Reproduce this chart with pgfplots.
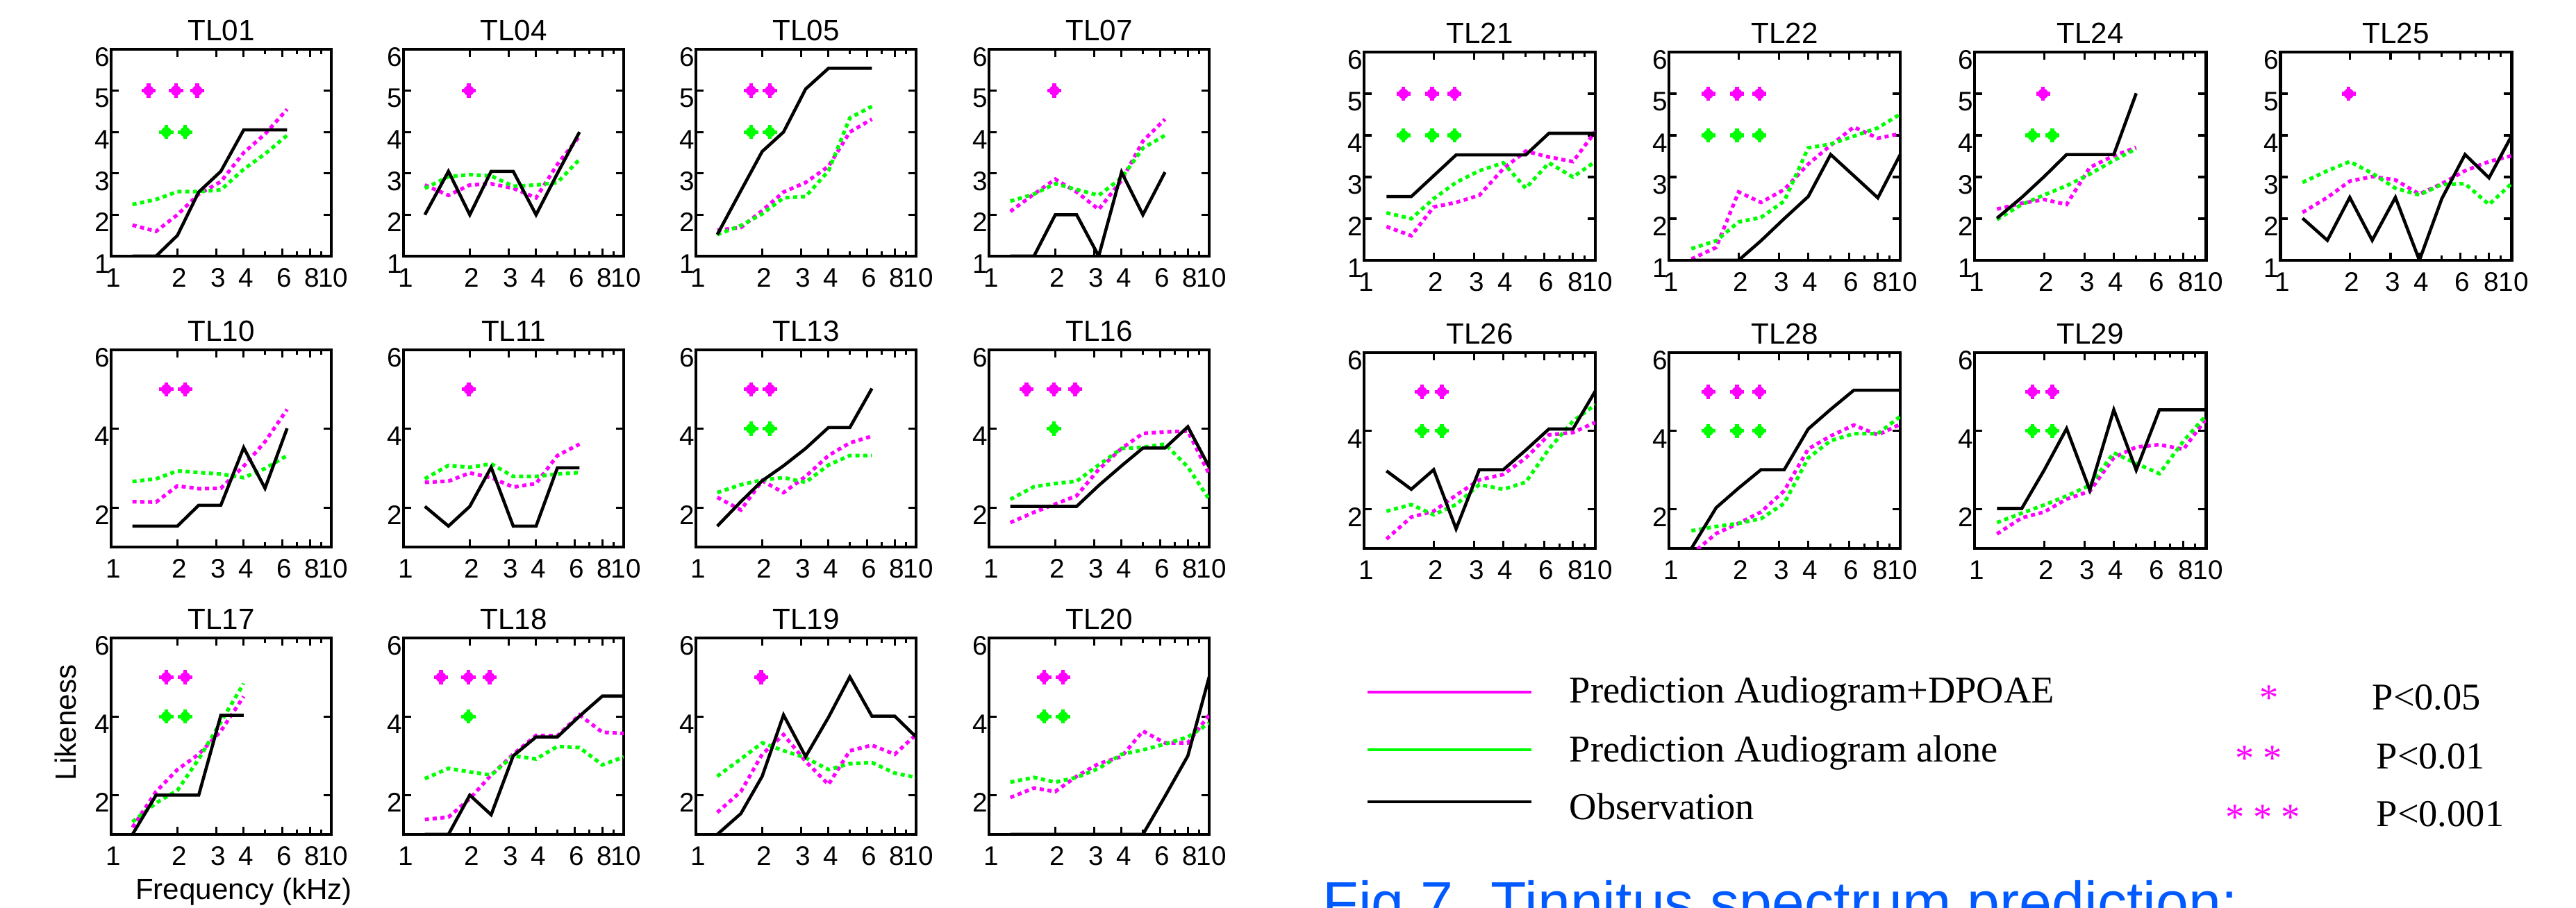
\documentclass[border=0pt]{standalone}
\usepackage{pgfplots}
\usepackage{pgfplotstable}
\pgfplotsset{compat=1.18}
\usepackage{fontspec}
\setmainfont{Liberation Sans}
\newfontfamily\timesfont{Liberation Serif}
\definecolor{mag}{RGB}{255,0,255}
\definecolor{grn}{RGB}{0,255,0}
\definecolor{figblue}{RGB}{0,90,255}

\pgfplotsset{
  scale only axis,
  xmin=1, xmax=10, ymin=1, ymax=6,
  xtick={1,2,3,4,6,8,10}, xticklabels={1,2,3,4,6,8,10},
  minor xtick={5,7,9},
  axis line style={line width=1.4pt},
  tick style={black, line width=0.9pt},
  major tick length=1.1mm, minor tick length=0.7mm,
  tick align=inside,
  ticklabel style={font=\fontsize{11}{12}\selectfont},
  xticklabel style={yshift=-0.5mm, xshift=0.3mm},
  yticklabel style={xshift=1.0mm, yshift=-1.1mm, /pgf/number format/assume math mode=true},
  every axis title/.style={at={(0.5,1)}, anchor=south, font=\fontsize{12}{14}\selectfont},
}

\newcommand\drawseries[1]{%
  \addplot[mag, line width=1.5pt, dash pattern=on 1.7pt off 1.5pt] table[x=f,y=m]{#1};
  \addplot[grn, line width=1.5pt, dash pattern=on 1.7pt off 1.5pt] table[x=f,y=g]{#1};
  \addplot[black, line width=1.3pt] table[x=f,y=o]{#1};}
\newcommand\starplot[2]{% colour, coordinates
  \addplot[only marks, mark=*, #1, mark size=1.9pt] coordinates {#2};
  \addplot[only marks, mark=+, #1, mark size=2.9pt, mark options={line width=1.5pt}] coordinates {#2};}
\newcommand\mthree{\starplot{mag}{(1.48,5)(1.97,5)(2.46,5)}}
\newcommand\mtwo{\starplot{mag}{(1.78,5)(2.17,5)}}
\newcommand\mone{\starplot{mag}{(1.98,5)}}
\newcommand\gthree{\starplot{grn}{(1.48,4)(1.97,4)(2.46,4)}}
\newcommand\gtwo{\starplot{grn}{(1.78,4)(2.17,4)}}
\newcommand\gone{\starplot{grn}{(1.97,4)}}

% f = frequency (kHz), o = observation, m = prediction audiogram+DPOAE, g = prediction audiogram alone
\pgfplotstableread{
f o m g
1.25 1 1.75 2.25
1.6 1 1.6 2.37
2 1.5 2.0 2.56
2.5 2.55 2.5 2.56
3.15 3.05 2.8 2.6
4 4.05 3.5 3.1
5 4.05 3.95 3.47
6.3 4.05 4.55 3.92
}\tabA
\pgfplotstableread{
f o m g
1.25 2 2.72 2.64
1.6 3.05 2.47 2.92
2 2 2.72 2.97
2.5 3.05 2.75 2.94
3.15 3.05 2.64 2.69
4 2 2.41 2.72
5 3 3.22 2.78
6.3 4 3.9 3.34
}\tabB
\pgfplotstableread{
f o m g
1.25 1.52 1.63 1.52
1.6 2.58 1.69 1.74
2 3.53 2.1 2.02
2.5 4.0 2.55 2.41
3.15 5.04 2.78 2.44
4 5.54 3.17 3.06
5 5.54 4.0 4.34
6.3 5.54 4.31 4.62
}\tabC
\pgfplotstableread{
f o m g
1.25 1 2.08 2.33
1.6 1 2.5 2.5
2 2 2.86 2.75
2.5 2 2.55 2.61
3.15 1 2.13 2.47
4 3.03 2.83 2.89
5 2 3.78 3.61
6.3 3.03 4.31 3.92
}\tabD
\pgfplotstableread{
f o m g
1.25 1.53 2.15 2.66
1.6 1.53 2.14 2.73
2 1.53 2.55 2.93
2.5 2.06 2.48 2.89
3.15 2.06 2.49 2.85
4 3.52 3.05 2.76
5 2.49 3.67 2.99
6.3 4.01 4.49 3.32
}\tabE
\pgfplotstableread{
f o m g
1.25 2.03 2.64 2.73
1.6 1.53 2.67 3.07
2 2.03 2.88 3.02
2.5 3.02 2.76 3.11
3.15 1.53 2.52 2.79
4 1.53 2.61 2.79
5 3.01 3.32 2.85
6.3 3.01 3.61 2.89
}\tabF
\pgfplotstableread{
f o m g
1.25 1.53 2.26 2.38
1.6 2.15 1.94 2.58
2 2.68 2.68 2.7
2.5 3.06 2.38 2.76
3.15 3.5 2.79 2.64
4 4.03 3.32 3.08
5 4.03 3.64 3.32
6.3 5.02 3.81 3.32
}\tabG
\pgfplotstableread{
f o m g
1.25 2.03 1.62 2.21
1.6 2.03 1.88 2.53
2 2.03 2.09 2.61
2.5 2.03 2.3 2.67
3.15 2.56 2.97 3.08
4 3.06 3.5 3.5
5 3.51 3.88 3.53
6.3 3.51 3.92 3.61
8 4.05 3.94 3.03
10 3.03 2.85 2.21
}\tabH
\pgfplotstableread{
f o m g
1.25 1 1.18 1.32
1.6 2 2.09 1.8
2 2 2.65 2.12
2.5 2 3.04 2.92
3.15 4.03 3.63 3.86
4 4.03 4.51 4.84
}\tabI
\pgfplotstableread{
f o m g
1.25 1 1.38 2.42
1.6 1 1.44 2.68
2 2 1.91 2.59
2.5 1.5 2.51 2.51
3.15 3 3.04 3.0
4 3.48 3.52 2.92
5 3.48 3.51 3.24
6.3 4.01 4.04 3.21
8 4.52 3.6 2.77
10 4.52 3.57 2.97
}\tabJ
\pgfplotstableread{
f o m g
1.25 1 1.56 2.48
1.6 1.53 2.09 2.92
2 2.48 3.04 3.33
2.5 4.04 3.54 3.13
3.15 2.98 2.86 2.95
4 3.98 2.27 2.65
5 5.01 3.13 2.8
6.3 4.01 3.27 2.83
8 4.01 3.04 2.56
10 3.48 3.54 2.45
}\tabK
\pgfplotstableread{
f o m g
1.25 1 1.94 2.33
1.6 1 2.18 2.45
2 1 2.09 2.33
2.5 1 2.48 2.45
3.15 1 2.8 2.68
4 1 2.98 3.04
5 1 3.63 3.15
6.3 1.97 3.33 3.3
8 3.0 3.33 3.48
10 5.01 4.04 3.83
}\tabL
\pgfplotstableread{
f o m g
1.25 2.53 1.81 2.14
1.6 2.53 1.59 2.0
2 3.03 2.28 2.48
2.5 3.53 2.39 2.87
3.15 3.53 2.56 3.15
4 3.53 3.2 3.34
5 3.53 3.62 2.73
6.3 4.05 3.48 3.34
8 4.05 3.37 3.0
10 4.05 4.09 3.37
}\tabM
\pgfplotstableread{
f o m g
1.25 1 1.03 1.28
1.6 1 1.31 1.47
2 1 2.64 1.92
2.5 1.47 2.39 2.03
3.15 2.0 2.7 2.42
4 2.53 3.31 3.7
5 3.54 3.76 3.79
6.3 3.03 4.2 3.98
8 2.5 3.93 4.18
10 3.54 4.04 4.51
}\tabN
\pgfplotstableread{
f o m g
1.25 2.01 2.23 1.98
1.6 2.51 2.37 2.34
2 3.01 2.46 2.57
2.5 3.54 2.34 2.79
3.15 3.54 3.23 3.07
4 3.54 3.51 3.4
5 5.01 3.71 3.68
}\tabO
\pgfplotstableread{
f o m g
1.25 2.01 2.15 2.87
1.6 1.48 2.51 3.15
2 2.51 2.9 3.37
2.5 1.48 3.01 3.09
3.15 2.51 2.93 2.73
4 1.0 2.59 2.57
5 2.48 2.84 2.82
6.3 3.54 3.15 2.84
8 2.98 3.37 2.34
10 3.98 3.51 2.84
}\tabP
\pgfplotstableread{
f o m g
1.25 2.98 1.24 1.95
1.6 2.51 1.8 2.12
2 3.01 1.95 1.86
2.5 1.5 2.36 2.12
3.15 3.01 2.75 2.63
4 3.01 2.89 2.51
5 3.51 3.31 2.69
6.3 4.05 3.9 3.54
8 4.05 3.96 4.25
10 5.02 4.22 4.67
}\tabQ
\pgfplotstableread{
f o m g
1.25 1.0 0.85 1.45
1.6 2.04 1.38 1.56
2 2.54 1.64 1.64
2.5 3.01 1.93 1.76
3.15 3.01 2.47 2.15
4 4.05 3.54 3.31
5 4.55 3.87 3.75
6.3 5.04 4.15 3.93
8 5.04 3.9 3.93
10 5.04 4.17 4.37
}\tabR
\pgfplotstableread{
f o m g
1.25 2.02 1.37 1.66
1.6 2.02 1.78 1.9
2 3.0 1.93 2.11
2.5 4.06 2.26 2.34
3.15 2.49 2.46 2.61
4 4.54 3.32 3.44
5 3.0 3.59 3.17
6.3 4.54 3.65 2.91
8 4.54 3.53 3.74
10 4.54 4.3 4.39
}\tabS

\begin{document}
\begin{tikzpicture}
\path[use as bounding box] (0,0) rectangle (370.9mm,130.7mm);
\clip (0,0) rectangle (370.9mm,130.7mm);

% ---- row 1, left group
\begin{semilogxaxis}[anchor=north west, width=31.7mm, height=29.8mm, ytick={1,2,3,4,5,6}, at={(16.0mm,123.6mm)}, title={TL01}]
\drawseries{\tabA}\mthree\gtwo
\end{semilogxaxis}
\begin{semilogxaxis}[anchor=north west, width=31.7mm, height=29.8mm, ytick={1,2,3,4,5,6}, at={(58.1mm,123.6mm)}, title={TL04}]
\drawseries{\tabB}\mone
\end{semilogxaxis}
\begin{semilogxaxis}[anchor=north west, width=31.7mm, height=29.8mm, ytick={1,2,3,4,5,6}, at={(100.2mm,123.6mm)}, title={TL05}]
\drawseries{\tabC}\mtwo\gtwo
\end{semilogxaxis}
\begin{semilogxaxis}[anchor=north west, width=31.7mm, height=29.8mm, ytick={1,2,3,4,5,6}, at={(142.4mm,123.6mm)}, title={TL07}]
\drawseries{\tabD}\mone
\end{semilogxaxis}
% ---- row 2, left group
\begin{semilogxaxis}[anchor=north west, width=31.7mm, height=28.4mm, ytick={2,4,6}, at={(16.0mm,80.3mm)}, title={TL10}]
\drawseries{\tabE}\mtwo
\end{semilogxaxis}
\begin{semilogxaxis}[anchor=north west, width=31.7mm, height=28.4mm, ytick={2,4,6}, at={(58.1mm,80.3mm)}, title={TL11}]
\drawseries{\tabF}\mone
\end{semilogxaxis}
\begin{semilogxaxis}[anchor=north west, width=31.7mm, height=28.4mm, ytick={2,4,6}, at={(100.2mm,80.3mm)}, title={TL13}]
\drawseries{\tabG}\mtwo\gtwo
\end{semilogxaxis}
\begin{semilogxaxis}[anchor=north west, width=31.7mm, height=28.4mm, ytick={2,4,6}, at={(142.4mm,80.3mm)}, title={TL16}]
\drawseries{\tabH}\mthree\gone
\end{semilogxaxis}
% ---- row 3, left group
\begin{semilogxaxis}[anchor=north west, width=31.7mm, height=28.3mm, ytick={2,4,6}, at={(16.0mm,38.8mm)}, title={TL17}]
\drawseries{\tabI}\mtwo\gtwo
\end{semilogxaxis}
\begin{semilogxaxis}[anchor=north west, width=31.7mm, height=28.3mm, ytick={2,4,6}, at={(58.1mm,38.8mm)}, title={TL18}]
\drawseries{\tabJ}\mthree\gone
\end{semilogxaxis}
\begin{semilogxaxis}[anchor=north west, width=31.7mm, height=28.3mm, ytick={2,4,6}, at={(100.2mm,38.8mm)}, title={TL19}]
\drawseries{\tabK}\mone
\end{semilogxaxis}
\begin{semilogxaxis}[anchor=north west, width=31.7mm, height=28.3mm, ytick={2,4,6}, at={(142.4mm,38.8mm)}, title={TL20}]
\drawseries{\tabL}\mtwo\gtwo
\end{semilogxaxis}
% ---- row 1, right group
\begin{semilogxaxis}[anchor=north west, width=33.3mm, height=30.0mm, ytick={1,2,3,4,5,6}, at={(196.4mm,123.2mm)}, title={TL21}]
\drawseries{\tabM}\mthree\gthree
\end{semilogxaxis}
\begin{semilogxaxis}[anchor=north west, width=33.3mm, height=30.0mm, ytick={1,2,3,4,5,6}, at={(240.3mm,123.2mm)}, title={TL22}]
\drawseries{\tabN}\mthree\gthree
\end{semilogxaxis}
\begin{semilogxaxis}[anchor=north west, width=33.3mm, height=30.0mm, ytick={1,2,3,4,5,6}, at={(284.3mm,123.2mm)}, title={TL24}]
\drawseries{\tabO}\mone\gtwo
\end{semilogxaxis}
\begin{semilogxaxis}[anchor=north west, width=33.3mm, height=30.0mm, ytick={1,2,3,4,5,6}, at={(328.3mm,123.2mm)}, title={TL25}]
\drawseries{\tabP}\mone
\end{semilogxaxis}
% ---- row 2, right group
\begin{semilogxaxis}[anchor=north west, width=33.3mm, height=28.2mm, ytick={2,4,6}, at={(196.4mm,79.9mm)}, title={TL26}]
\drawseries{\tabQ}\mtwo\gtwo
\end{semilogxaxis}
\begin{semilogxaxis}[anchor=north west, width=33.3mm, height=28.2mm, ytick={2,4,6}, at={(240.3mm,79.9mm)}, title={TL28}]
\drawseries{\tabR}\mthree\gthree
\end{semilogxaxis}
\begin{semilogxaxis}[anchor=north west, width=33.3mm, height=28.2mm, ytick={2,4,6}, at={(284.3mm,79.9mm)}, title={TL29}]
\drawseries{\tabS}\mtwo\gtwo
\end{semilogxaxis}

% axis titles of the figure
\node[rotate=90, anchor=base, font=\fontsize{12}{14}\selectfont] at (10.9mm,26.6mm) {Likeness};
\node[anchor=base, font=\fontsize{12}{14}\selectfont] at (35.1mm,1.2mm) {Frequency (kHz)};

% legend
\draw[mag, line width=1pt] (196.9mm,31.0mm) -- (220.5mm,31.0mm);
\draw[grn, line width=1pt] (196.9mm,22.7mm) -- (220.5mm,22.7mm);
\draw[black, line width=1pt] (196.9mm,15.2mm) -- (220.5mm,15.2mm);
\begin{scope}[every node/.style={font=\timesfont\fontsize{15.5}{18}\selectfont, inner sep=0pt}]
\node[anchor=base west] at (225.9mm,29.5mm) {Prediction Audiogram+DPOAE};
\node[anchor=base west] at (225.9mm,21.0mm) {Prediction Audiogram alone};
\node[anchor=base west] at (225.9mm,12.7mm) {Observation};
\node[anchor=base west] at (341.5mm,28.5mm) {P<0.05};
\node[anchor=base west] at (342.1mm,20.0mm) {P<0.01};
\node[anchor=base west] at (342.1mm,11.7mm) {P<0.001};
\node[anchor=base, text=mag] at (326.7mm,28.4mm) {*};
\node[anchor=base, text=mag] at (323.2mm,19.7mm) {*};
\node[anchor=base, text=mag] at (327.2mm,19.7mm) {*};
\node[anchor=base, text=mag] at (321.8mm,11.2mm) {*};
\node[anchor=base, text=mag] at (325.8mm,11.2mm) {*};
\node[anchor=base, text=mag] at (329.8mm,11.2mm) {*};
\end{scope}

\node[anchor=base west, inner sep=0pt, text=figblue, font=\fontsize{24}{28}\selectfont] at (190.4mm,-2.2mm) {Fig 7. Tinnitus spectrum prediction:};
\end{tikzpicture}
\end{document}
